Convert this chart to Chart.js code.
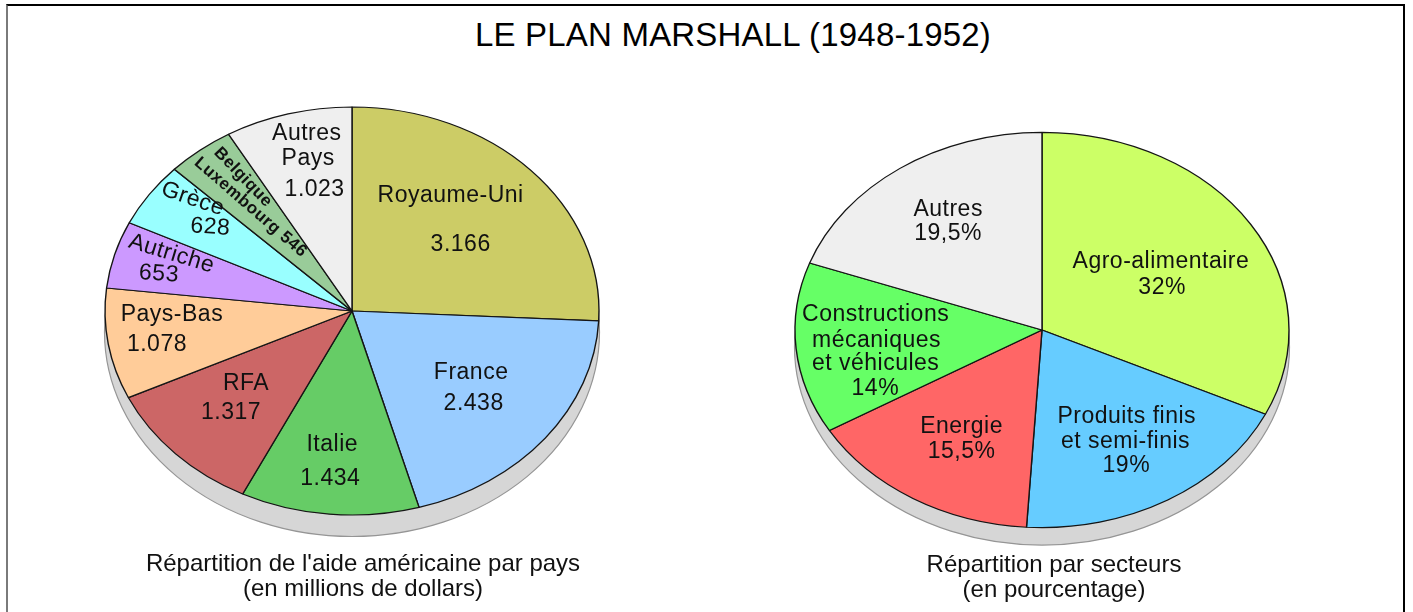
<!DOCTYPE html>
<html lang="fr">
<head>
<meta charset="utf-8">
<title>Le plan Marshall (1948-1952)</title>
<script src="https://cdn.jsdelivr.net/npm/chart.js@4.4.1/dist/chart.umd.min.js"></script>
<style>
  html, body { margin: 0; padding: 0; background: #fff; }
  body { width: 1413px; height: 612px; position: relative; overflow: hidden; font-family: "Liberation Sans", Arial, sans-serif; color: #111; }
  #cadre { position: absolute; left: 6px; top: 4px; width: 1395px; height: 640px; border-top: 2px solid #000; border-left: 2px solid #7a7a7a; border-right: 2px solid #000; }
  #titre { position: absolute; left: 733px; top: 18px; transform: translateX(-50%); font-size: 33px; line-height: 33px; white-space: nowrap; color: #000; letter-spacing: 0.2px; }
  .legende { position: absolute; top: 550px; transform: translateX(-50%); font-size: 24px; line-height: 25px; text-align: center; white-space: nowrap; color: #111; }
  canvas { position: absolute; }
</style>
</head>
<body>
<div id="cadre"></div>
<div id="titre">LE PLAN MARSHALL (1948-1952)</div>
<canvas id="camembertPays" width="560" height="560" style="left:72px; top:31px;"></canvas>
<canvas id="camembertSecteurs" width="560" height="560" style="left:762px; top:50px;"></canvas>
<div class="legende" style="left:363px;">Répartition de l'aide américaine par pays<br>(en millions de dollars)</div>
<div class="legende" style="left:1054px; top:551px;">Répartition par secteurs<br>(en pourcentage)</div>

<script>
// Données : aide américaine par pays (millions de dollars)
const pays = ['Royaume-Uni', 'France', 'Italie', 'RFA', 'Pays-Bas', 'Autriche', 'Grèce', 'Belgique\nLuxembourg', 'Autres\nPays'];
const aideMillions = [3166, 2438, 1434, 1317, 1078, 653, 628, 546, 1023];
const couleursPays = ['#cccc66', '#99ccff', '#66cc66', '#cc6666', '#ffcc99', '#cc99ff', '#99ffff', '#99cc99', '#efefef'];

// Données : répartition par secteurs (%)
const secteurs = ['Agro-alimentaire', 'Produits finis\net semi-finis', 'Energie', 'Constructions\nmécaniques\net véhicules', 'Autres'];
const partsSecteurs = [32, 19, 15.5, 14, 19.5];
const couleursSecteurs = ['#ccff66', '#66ccff', '#ff6666', '#66ff66', '#efefef'];

// Placement des étiquettes (fraction du rayon, décalage d'angle en degrés, décalage de chaque ligne)
const placementPays = [
    { frac: 0.62, da: -3.8, lignes: [[-5, -24.5], [5, 24.5]] },
    { frac: 0.61, da: -1.4, lignes: [[-1, -15.5], [1.5, 15.5]] },
    { frac: 0.735, da: 1.3, lignes: [[1, -17], [-1, 17]] },
    { frac: 0.62, da: 2.2, lignes: [[7.5, -14.5], [-7.5, 14.5]] },
    { frac: 0.764, da: 3.0, lignes: [[7.5, -15], [-7.5, 15]] },
    { frac: 0.792, da: 1.6, rot: [17, 4], lignes: [[6.5, -10], [-6.5, 10]] },
    { frac: 0.78, da: 4.0, rot: [19, 4], lignes: [[-8.5, -14], [8.5, 14]] },
    { frac: 0.723, da: 2.2, rot: [46, 41], petit: true, enLigne: true, lignes: [[-3.5, -15], [4, 15]] },
    { frac: 0.76, da: 2.1, lignes: [[-3.3, -28.3], [-2, -3.3], [4.5, 27.7]] }
];
const placementSecteurs = [
    { frac: 0.564, da: 1.5, lignes: [[-0.6, -12.8], [0.6, 12.8]] },
    { frac: 0.651, da: -0.9, lignes: [[0.7, -24.7], [-0.5, 0.3], [0.3, 24.3]] },
    { frac: 0.634, da: -0.6, lignes: [[0, -12.5], [0, 12.5]] },
    { frac: 0.68, da: -3.0, lignes: [[-0.2, -37], [0.7, -11.4], [-0.2, 12], [-0.5, 37]] },
    { frac: 0.676, da: 0.9, lignes: [[0, -12.2], [0, 12.2]] }
];

// Format des nombres : 3166 -> 3.166 ; 15.5 -> 15,5%
function formatMillions(v) {
    return String(v).replace(/\B(?=(\d{3})+(?!\d))/g, '.');
}
function formatPourcent(v) {
    return String(v).replace('.', ',') + '%';
}

// Plugin : aplatit le camembert en ellipse, dessine l'ombre et les étiquettes
function pluginEllipse(ratio, decalageOmbre, noms, placement, format) {
    return {
        id: 'ellipse',
        beforeDatasetsDraw(chart) {
            const arc = chart.getDatasetMeta(0).data[0];
            const ctx = chart.ctx;
            const cx = arc.x, cy = arc.y, r = arc.outerRadius;

            // ombre grise sous le disque
            ctx.save();
            ctx.beginPath();
            ctx.ellipse(cx, cy + decalageOmbre, r + 0.5, r * ratio + 0.5, 0, 0, Math.PI * 2);
            ctx.fillStyle = '#d6d6d6';
            ctx.fill();
            ctx.lineWidth = 1.2;
            ctx.strokeStyle = '#959595';
            ctx.stroke();

            // écrasement vertical autour du centre
            ctx.translate(cx, cy);
            ctx.scale(1, ratio);
            ctx.translate(-cx, -cy);
        },
        afterDatasetsDraw(chart) {
            const ctx = chart.ctx;
            ctx.restore();

            const arcs = chart.getDatasetMeta(0).data;
            const valeurs = chart.data.datasets[0].data;
            arcs.forEach((arc, i) => {
                const p = placement[i];
                const milieu = (arc.startAngle + arc.endAngle) / 2 + p.da * Math.PI / 180;
                const bx = arc.x + p.frac * arc.outerRadius * Math.cos(milieu);
                const by = arc.y + p.frac * arc.outerRadius * Math.sin(milieu) * ratio;

                let lignes = noms[i].split('\n');
                if (p.enLigne) {
                    lignes[lignes.length - 1] += ' ' + format(valeurs[i]);
                } else {
                    lignes.push(format(valeurs[i]));
                }

                const taille = p.petit ? 17 : 23;
                ctx.save();
                ctx.font = (p.petit ? 'bold ' : '') + taille + 'px "Liberation Sans", Arial, sans-serif';
                ctx.letterSpacing = '0.5px';
                ctx.fillStyle = '#111';
                ctx.textAlign = 'center';
                ctx.textBaseline = 'alphabetic';
                lignes.forEach((txt, j) => {
                    const [dx, dy] = p.lignes[j];
                    const angle = p.rot ? p.rot[j] : 0;
                    ctx.save();
                    ctx.translate(bx + dx, by + dy);
                    ctx.rotate(angle * Math.PI / 180);
                    ctx.fillText(txt, 0, taille * 0.36);
                    ctx.restore();
                });
                ctx.restore();
            });
        }
    };
}

function creerCamembert(idCanvas, noms, valeurs, couleurs, ratio, decalageOmbre, placement, format) {
    const ctx = document.getElementById(idCanvas).getContext('2d');
    return new Chart(ctx, {
        type: 'pie',
        data: {
            labels: noms,
            datasets: [{
                data: valeurs,
                backgroundColor: couleurs,
                borderColor: '#151515',
                borderWidth: 1.4,
            }],
        },
        options: {
            responsive: false,
            animation: false,
            events: [],
            radius: 247,
            layout: { padding: 0 },
            plugins: {
                legend: { display: false },
                tooltip: { enabled: false },
            },
        },
        plugins: [pluginEllipse(ratio, decalageOmbre, noms, placement, format)],
    });
}

creerCamembert('camembertPays', pays, aideMillions, couleursPays, 0.826, 21, placementPays, formatMillions);
creerCamembert('camembertSecteurs', secteurs, partsSecteurs, couleursSecteurs, 0.80, 17, placementSecteurs, formatPourcent);
</script>
</body>
</html>
